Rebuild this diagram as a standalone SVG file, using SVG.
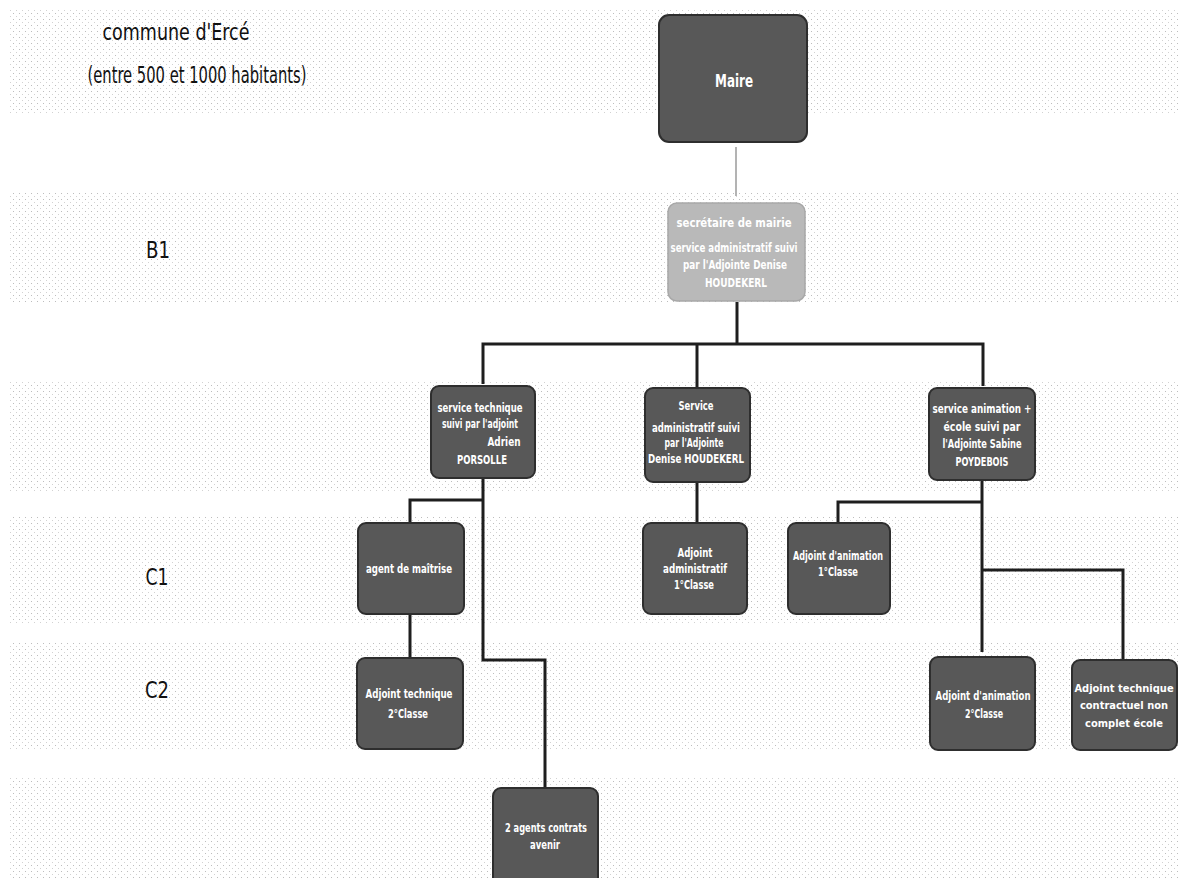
<svg xmlns="http://www.w3.org/2000/svg" width="1187" height="878" viewBox="0 0 1187 878">
<defs>
<pattern id="dots" width="6" height="6" patternUnits="userSpaceOnUse">
<rect x="1" y="1" width="1" height="1" fill="#bdbdbd"/>
<rect x="4" y="4" width="1" height="1" fill="#d2d2d2"/>
</pattern>
<style>
.band{fill:url(#dots)}
.lbl{font-family:"Liberation Sans Narrow","DejaVu Sans Condensed","Liberation Sans",sans-serif;font-size:23px;fill:#111}
.box{fill:#585858;stroke:#2e2e2e;stroke-width:2}
.lbox{fill:#b9b9b9;stroke:#a8a8a8;stroke-width:1.5}
.t{font-family:"Liberation Sans Narrow","DejaVu Sans Condensed","Liberation Sans",sans-serif;font-size:12.5px;font-weight:bold;fill:#fff;text-anchor:middle}
.sm{font-size:11px}
.big{font-size:18px}
.con{fill:none;stroke:#1e1e1e;stroke-width:3}
.thin{fill:none;stroke:#9a9a9a;stroke-width:1.5}
</style>
</defs>
<rect width="1187" height="878" fill="#fff"/>
<g id="bands">
<rect class="band" x="8" y="8" width="1172" height="105"/>
<rect class="band" x="8" y="192" width="1172" height="110"/>
<rect class="band" x="8" y="381" width="1172" height="112"/>
<rect class="band" x="8" y="516" width="1172" height="107"/>
<rect class="band" x="8" y="641" width="1172" height="108"/>
<rect class="band" x="8" y="776" width="1172" height="102"/>
</g>
<g id="labels">
<text class="lbl" x="176" y="40" text-anchor="middle" textLength="147" lengthAdjust="spacingAndGlyphs">commune d'Ercé</text>
<text class="lbl" x="197" y="83" text-anchor="middle" textLength="219" lengthAdjust="spacingAndGlyphs">(entre 500 et 1000 habitants)</text>
<text class="lbl" x="158" y="258" text-anchor="middle" textLength="24" lengthAdjust="spacingAndGlyphs">B1</text>
<text class="lbl" x="157" y="585" text-anchor="middle" textLength="23" lengthAdjust="spacingAndGlyphs">C1</text>
<text class="lbl" x="157" y="698" text-anchor="middle" textLength="24" lengthAdjust="spacingAndGlyphs">C2</text>
</g>
<g id="connectors">
<path class="thin" d="M736 147V196"/>
<path class="con" d="M737 302V344"/>
<path class="con" d="M483 384V344H983V386"/>
<path class="con" d="M697 344V387"/>
<path class="con" d="M483 478V660H545V788"/>
<path class="con" d="M483 500H410V523"/>
<path class="con" d="M410 614V658"/>
<path class="con" d="M697 482V523"/>
<path class="con" d="M982 480V652"/>
<path class="con" d="M982 502H838V523"/>
<path class="con" d="M982 570H1123V660"/>
</g>
<g id="maire">
<rect class="box" x="659" y="15" width="148" height="127" rx="10"/>
<text class="t big" x="734" y="87" textLength="38" lengthAdjust="spacingAndGlyphs">Maire</text>
</g>
<g id="secretaire">
<rect class="lbox" x="668" y="203" width="137" height="98" rx="9"/>
<text class="t" x="734" y="227" textLength="115" lengthAdjust="spacingAndGlyphs">secrétaire de mairie</text>
<text class="t" x="734" y="252" textLength="127" lengthAdjust="spacingAndGlyphs">service administratif suivi</text>
<text class="t" x="735" y="269" textLength="104" lengthAdjust="spacingAndGlyphs">par l'Adjointe Denise</text>
<text class="t" x="736" y="287" textLength="62" lengthAdjust="spacingAndGlyphs">HOUDEKERL</text>
</g>
<g id="service-technique">
<rect class="box" x="431" y="386" width="104" height="92" rx="8"/>
<text class="t" x="480" y="412" textLength="85" lengthAdjust="spacingAndGlyphs">service technique</text>
<text class="t" x="480" y="428" textLength="76" lengthAdjust="spacingAndGlyphs">suivi par l'adjoint</text>
<text class="t" x="504" y="446" textLength="33" lengthAdjust="spacingAndGlyphs">Adrien</text>
<text class="t" x="482" y="464" textLength="50" lengthAdjust="spacingAndGlyphs">PORSOLLE</text>
</g>
<g id="service-administratif">
<rect class="box" x="645" y="388" width="105" height="94" rx="8"/>
<text class="t" x="696" y="410" textLength="35" lengthAdjust="spacingAndGlyphs">Service</text>
<text class="t" x="696" y="432" textLength="88" lengthAdjust="spacingAndGlyphs">administratif suivi</text>
<text class="t" x="694" y="447" textLength="59" lengthAdjust="spacingAndGlyphs">par l'Adjointe</text>
<text class="t" x="696" y="463" textLength="96" lengthAdjust="spacingAndGlyphs">Denise HOUDEKERL</text>
</g>
<g id="service-animation">
<rect class="box" x="929" y="388" width="106" height="92" rx="8"/>
<text class="t" x="982" y="413" textLength="99" lengthAdjust="spacingAndGlyphs">service animation +</text>
<text class="t" x="982" y="431" textLength="77" lengthAdjust="spacingAndGlyphs">école suivi par</text>
<text class="t" x="982" y="448" textLength="79" lengthAdjust="spacingAndGlyphs">l'Adjointe Sabine</text>
<text class="t" x="982" y="466" textLength="53" lengthAdjust="spacingAndGlyphs">POYDEBOIS</text>
</g>
<g id="agent-maitrise">
<rect class="box" x="358" y="523" width="106" height="91" rx="8"/>
<text class="t" x="409" y="573" textLength="86" lengthAdjust="spacingAndGlyphs">agent de maîtrise</text>
</g>
<g id="adjoint-administratif">
<rect class="box" x="643" y="523" width="104" height="91" rx="8"/>
<text class="t" x="695" y="557" textLength="35" lengthAdjust="spacingAndGlyphs">Adjoint</text>
<text class="t" x="695" y="573" textLength="64" lengthAdjust="spacingAndGlyphs">administratif</text>
<text class="t" x="694" y="589" textLength="40" lengthAdjust="spacingAndGlyphs">1°Classe</text>
</g>
<g id="adjoint-animation-1">
<rect class="box" x="788" y="523" width="102" height="91" rx="8"/>
<text class="t" x="838" y="560" textLength="90" lengthAdjust="spacingAndGlyphs">Adjoint d'animation</text>
<text class="t" x="838" y="576" textLength="40" lengthAdjust="spacingAndGlyphs">1°Classe</text>
</g>
<g id="adjoint-technique-2">
<rect class="box" x="357" y="658" width="106" height="91" rx="8"/>
<text class="t" x="409" y="698" textLength="87" lengthAdjust="spacingAndGlyphs">Adjoint technique</text>
<text class="t" x="408" y="718" textLength="40" lengthAdjust="spacingAndGlyphs">2°Classe</text>
</g>
<g id="adjoint-animation-2">
<rect class="box" x="930" y="657" width="105" height="93" rx="8"/>
<text class="t" x="983" y="700" textLength="95" lengthAdjust="spacingAndGlyphs">Adjoint d'animation</text>
<text class="t" x="984" y="718" textLength="38" lengthAdjust="spacingAndGlyphs">2°Classe</text>
</g>
<g id="adjoint-technique-contractuel">
<rect class="box" x="1072" y="660" width="105" height="90" rx="8"/>
<text class="t sm" x="1124" y="692">Adjoint technique</text>
<text class="t sm" x="1124" y="709">contractuel non</text>
<text class="t sm" x="1124" y="727">complet école</text>
</g>
<g id="agents-contrats-avenir">
<rect class="box" x="493" y="788" width="105" height="100" rx="8"/>
<text class="t" x="546" y="832" textLength="82" lengthAdjust="spacingAndGlyphs">2 agents contrats</text>
<text class="t" x="545" y="849" textLength="30" lengthAdjust="spacingAndGlyphs">avenir</text>
</g>
</svg>
